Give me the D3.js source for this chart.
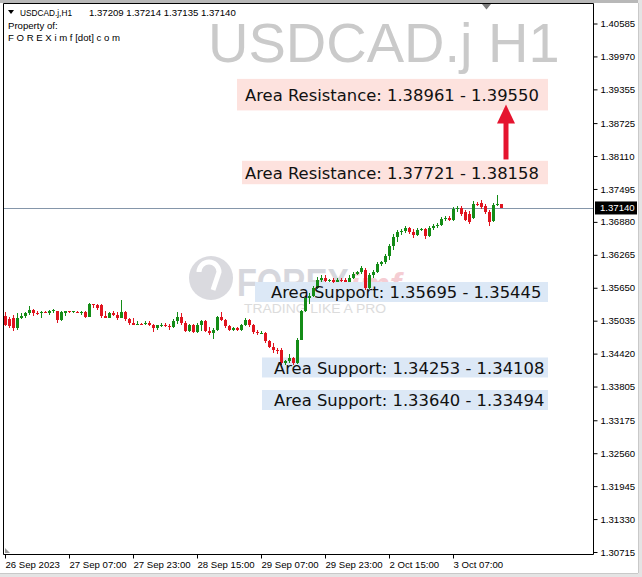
<!DOCTYPE html>
<html><head><meta charset="utf-8">
<script src="https://cdn.jsdelivr.net/npm/d3@7"></script>
<style>body{margin:0;background:#fff;} svg{display:block}</style>
</head><body>
<svg id="c" width="642" height="577"></svg>
<script>
const symbolLabel = "USDCAD.j,H1";
const headerOHLC = [1.37209, 1.37214, 1.37135, 1.37140];
const watermarkTitle = "USDCAD.j H1";
const propertyLines = ["Property of:", "F O R E X i m f [dot] c o m"];

const opens = [1.3513,1.3506,1.3509,1.3489,1.3508,1.3513,1.3517,1.3524,1.3517,1.3517,
 1.3519,1.3518,1.3522,1.3521,1.3504,1.3517,1.3521,1.3519,1.3519,1.3518,
 1.3519,1.3511,1.3534,1.3532,1.3532,1.3513,1.3509,1.3517,1.3515,1.3509,
 1.3519,1.3506,1.3500,1.3496,1.3498,1.3498,1.3500,1.3495,1.3489,1.3495,
 1.3496,1.3493,1.3491,1.3502,1.3511,1.3500,1.3485,1.3495,1.3482,1.3496,
 1.3502,1.3485,1.3480,1.3487,1.3511,1.3504,1.3493,1.3487,1.3489,1.3487,
 1.3495,1.3504,1.3495,1.3482,1.3480,1.3481,1.3465,1.3455,1.3448,1.3448,
 1.3424,1.3428,1.3433,1.3424,1.3468,1.3521,1.3545,1.3550,1.3565,1.3580,
 1.3584,1.3578,1.3580,1.3576,1.3580,1.3579,1.3576,1.3584,1.3591,1.3595,
 1.3599,1.3565,1.3588,1.3595,1.3610,1.3614,1.3625,1.3643,1.3660,1.3669,
 1.3671,1.3677,1.3669,1.3664,1.3673,1.3674,1.3662,1.3677,1.3681,1.3682,
 1.3694,1.3695,1.3692,1.3712,1.3714,1.3707,1.3703,1.3695,1.3721,1.3723,
 1.3718,1.3707,1.3690,1.3720,1.37209];
const highs = [1.3519,1.3511,1.3515,1.3517,1.3517,1.3519,1.3530,1.3526,1.3521,1.3521,
 1.3522,1.3524,1.3526,1.3522,1.3521,1.3522,1.3522,1.3522,1.3522,1.3522,
 1.3521,1.3537,1.3535,1.3535,1.3535,1.3521,1.3519,1.3521,1.3519,1.3543,
 1.3522,1.3509,1.3509,1.3502,1.3500,1.3502,1.3502,1.3498,1.3496,1.3500,
 1.3500,1.3498,1.3506,1.3519,1.3517,1.3502,1.3498,1.3498,1.3500,1.3504,
 1.3504,1.3491,1.3489,1.3513,1.3519,1.3506,1.3496,1.3491,1.3491,1.3498,
 1.3508,1.3506,1.3498,1.3487,1.3485,1.3483,1.3467,1.3461,1.3452,1.3452,
 1.3431,1.3441,1.3435,1.3472,1.3524,1.3548,1.3556,1.3569,1.3586,1.3588,
 1.3588,1.3582,1.3584,1.3584,1.3584,1.3584,1.3588,1.3595,1.3597,1.3606,
 1.3602,1.3593,1.3599,1.3614,1.3615,1.3628,1.3647,1.3666,1.3673,1.3675,
 1.3681,1.3679,1.3675,1.3677,1.3677,1.3677,1.3681,1.3684,1.3686,1.3697,
 1.3699,1.3699,1.3716,1.3718,1.3718,1.3710,1.3708,1.3727,1.3725,1.3729,
 1.3721,1.3710,1.3723,1.3738,1.37214];
const lows = [1.3493,1.3489,1.3485,1.3487,1.3506,1.3509,1.3515,1.3513,1.3515,1.3508,
 1.3517,1.3515,1.3517,1.3500,1.3502,1.3513,1.3517,1.3517,1.3517,1.3515,
 1.3509,1.3511,1.3528,1.3524,1.3509,1.3508,1.3508,1.3513,1.3504,1.3508,
 1.3502,1.3496,1.3495,1.3495,1.3495,1.3496,1.3493,1.3483,1.3487,1.3491,
 1.3491,1.3487,1.3489,1.3498,1.3496,1.3482,1.3483,1.3480,1.3480,1.3485,
 1.3482,1.3476,1.3470,1.3485,1.3502,1.3489,1.3485,1.3485,1.3485,1.3485,
 1.3493,1.3491,1.3478,1.3476,1.3478,1.3461,1.3452,1.3444,1.3442,1.3420,
 1.3420,1.3424,1.3420,1.3422,1.3467,1.3519,1.3534,1.3547,1.3563,1.3575,
 1.3575,1.3575,1.3573,1.3575,1.3576,1.3575,1.3575,1.3582,1.3588,1.3591,
 1.3561,1.3563,1.3584,1.3593,1.3606,1.3610,1.3617,1.3636,1.3651,1.3664,
 1.3668,1.3666,1.3658,1.3662,1.3671,1.3656,1.3660,1.3673,1.3677,1.3681,
 1.3690,1.3690,1.3690,1.3707,1.3699,1.3690,1.3684,1.3694,1.3718,1.3712,
 1.3703,1.3681,1.3688,1.3718,1.37135];
const closes = [1.3496,1.3493,1.3489,1.3508,1.3513,1.3517,1.3524,1.3517,1.3516,1.3519,
 1.3518,1.3522,1.3524,1.3504,1.3519,1.3521,1.3519,1.3521,1.3518,1.3520,
 1.3511,1.3534,1.3532,1.3528,1.3513,1.3509,1.3517,1.3515,1.3508,1.3519,
 1.3506,1.3500,1.3496,1.3498,1.3497,1.3500,1.3495,1.3489,1.3495,1.3496,
 1.3493,1.3491,1.3502,1.3511,1.3500,1.3485,1.3495,1.3482,1.3496,1.3502,
 1.3485,1.3480,1.3487,1.3511,1.3504,1.3493,1.3487,1.3489,1.3487,1.3495,
 1.3504,1.3495,1.3482,1.3480,1.3481,1.3465,1.3455,1.3448,1.3446,1.3424,
 1.3428,1.3433,1.3424,1.3468,1.3521,1.3545,1.3550,1.3565,1.3580,1.3584,
 1.3578,1.3580,1.3576,1.3580,1.3579,1.3576,1.3584,1.3591,1.3595,1.3601,
 1.3565,1.3588,1.3595,1.3610,1.3614,1.3625,1.3643,1.3660,1.3669,1.3671,
 1.3677,1.3669,1.3664,1.3673,1.3674,1.3662,1.3677,1.3681,1.3682,1.3694,
 1.3695,1.3692,1.3712,1.3714,1.3703,1.3692,1.3688,1.3721,1.3720,1.3716,
 1.3707,1.3688,1.3720,1.3721,1.37140];

const xTickIndex = [0,16,32,48,64,80,96,112];
const xTickLabels = ["26 Sep 2023","27 Sep 07:00","27 Sep 23:00","28 Sep 15:00","29 Sep 07:00","29 Sep 23:00","2 Oct 15:00","3 Oct 07:00"];
const yTickValues = [1.40585,1.39970,1.39355,1.38725,1.38110,1.37495,1.36880,1.36265,1.35650,1.35035,1.34420,1.33805,1.33175,1.32560,1.31945,1.31330,1.30715];

const zoneTexts = ["Area Resistance: 1.38961 - 1.39550","Area Resistance: 1.37721 - 1.38158","Area Support: 1.35695 - 1.35445","Area Support: 1.34253 - 1.34108","Area Support: 1.33640 - 1.33494"];
const zoneKinds = ["resistance","resistance","support","support","support"];
const zoneLow = [1.38961,1.37721,1.35445,1.34108,1.33494];
const zoneHigh = [1.39550,1.38158,1.35695,1.34253,1.33640];
const zoneCenters = [1.39256,1.37802,1.35571,1.34161,1.33554];
const lastPrice = 1.37140;

const bars = opens.map((o,i)=>({i, o, h:highs[i], l:lows[i], c:closes[i]}));
const N = bars.length;

const svg = d3.select("#c");
const L = 3.5, R = 593.5, T = 3.5, B = 554.5;
const AX = "Liberation Sans, Arial, sans-serif";

const x = d3.scaleLinear().domain([0, N-1]).range([5, 5 + 4*(N-1)]);
const y = d3.scaleLinear().domain([1.30715, 1.40585]).range([552, 23.5]);

// window background
svg.append("rect").attr("width",642).attr("height",577).attr("fill","#ffffff");
svg.append("rect").attr("x",0).attr("y",0).attr("width",642).attr("height",3).attr("fill","#b8b8b8");
svg.append("rect").attr("x",638).attr("y",0).attr("width",4).attr("height",577).attr("fill","#e4e4e4");
svg.append("rect").attr("x",0).attr("y",573).attr("width",642).attr("height",4).attr("fill","#e4e4e4");
svg.append("line").attr("x1",638.5).attr("x2",638.5).attr("y1",3).attr("y2",573).attr("stroke","#c9c9c9");
svg.append("line").attr("x1",0).attr("x2",638).attr("y1",573.5).attr("y2",573.5).attr("stroke","#c9c9c9");

const plot = svg.append("g");

// watermark title
plot.append("text").attr("x",208).attr("y",62).attr("font-family",AX).attr("font-size",56)
  .attr("fill","#cacaca").text(watermarkTitle);

// logo watermark
const wm = plot.append("g").attr("opacity",0.9);
wm.append("circle").attr("cx",211).attr("cy",278).attr("r",22).attr("fill","#d6d6dc");
wm.append("path").attr("d","M199,272 a10,10 0 1 1 20,0 l-6,18").attr("fill","none").attr("stroke","#ffffff").attr("stroke-width",5);
wm.append("text").attr("x",237).attr("y",296).attr("font-family",AX).attr("font-weight","bold")
  .attr("font-size",38).attr("fill","#d2d3da").attr("textLength",112).attr("lengthAdjust","spacingAndGlyphs").text("FOREX");
wm.append("text").attr("x",350).attr("y",296).attr("font-family",AX).attr("font-weight","bold").attr("font-style","italic")
  .attr("font-size",34).attr("fill","#f5c8cf").text("imf");
wm.append("text").attr("x",244).attr("y",313).attr("font-family",AX).attr("font-size",12)
  .attr("fill","#d9d9d9").attr("textLength",142).attr("lengthAdjust","spacingAndGlyphs").text("TRADING LIKE A PRO");

// zone layout (annotation positions)
const zoneTextX = [x(60), x(60), x(66.5), x(67.25), x(67.25)];
const zonePadLeft = [8, 3, 16, 12, 12];
const zoneRight = 548;
const zoneFill = {resistance:"#fde2de", support:"#dce8f6"};
const zones = zoneTexts.map((t,i)=>{
  const cy = y(zoneCenters[i]);
  const half = Math.max(Math.abs(y(zoneLow[i]) - y(zoneHigh[i]))/2, 10);
  return {t, kind:zoneKinds[i], cy, half, tx: zoneTextX[i], bx: zoneTextX[i] - zonePadLeft[i]};
});
plot.selectAll("rect.zone").data(zones).join("rect").attr("class","zone")
  .attr("x", d => d.bx).attr("width", d => zoneRight - d.bx)
  .attr("y", d => d.cy - d.half).attr("height", d => 2*d.half)
  .attr("fill", d => zoneFill[d.kind]);

// current price line
plot.append("line").attr("x1",L).attr("x2",R).attr("y1",Math.round(y(lastPrice))+0.5).attr("y2",Math.round(y(lastPrice))+0.5)
  .attr("stroke","#8596aa").attr("stroke-width",1);

// candles
const up = "#148c17", dn = "#e0141f";
const cg = plot.append("g").attr("shape-rendering","crispEdges");
cg.selectAll("line.w").data(bars).join("line").attr("class","w")
  .attr("x1", d => Math.round(x(d.i))+0.5).attr("x2", d => Math.round(x(d.i))+0.5)
  .attr("y1", d => y(d.h)).attr("y2", d => y(d.l))
  .attr("stroke", d => d.c >= d.o ? up : dn).attr("stroke-width",1);
cg.selectAll("rect.b").data(bars).join("rect").attr("class","b")
  .attr("x", d => Math.round(x(d.i))-1).attr("width",3)
  .attr("y", d => y(Math.max(d.o,d.c))).attr("height", d => Math.max(1, Math.abs(y(d.o)-y(d.c))))
  .attr("fill", d => d.c >= d.o ? up : dn);

// zone texts
plot.selectAll("text.zone").data(zones).join("text").attr("class","zone")
  .attr("x", d => d.tx).attr("y", d => d.cy + 1)
  .attr("dominant-baseline","central")
  .attr("font-family","DejaVu Sans, sans-serif").attr("font-size",16.4).attr("fill","#111")
  .text(d => d.t);

// arrow between resistance zones
const ax = x(N-1) + 5;
const tipY = y(zoneLow[0]) - 6, baseY = y(zoneHigh[1]) + 6;
plot.append("line").attr("x1",ax).attr("x2",ax).attr("y1",baseY).attr("y2",tipY+16)
  .attr("stroke","#e5142f").attr("stroke-width",5);
plot.append("path").attr("d",`M${ax},${tipY} L${ax-9},${tipY+19} L${ax+9},${tipY+19} Z`).attr("fill","#e5142f");

// frame
svg.append("path").attr("d",`M${L},${B} L${L},${T} L${R},${T} L${R},${B} Z`).attr("fill","none").attr("stroke","#000").attr("stroke-width",1);

// header
svg.append("path").attr("d","M8,10 L14,10 L11,14 Z").attr("fill","#000");
svg.append("text").attr("x",20).attr("y",15.5).attr("font-family",AX).attr("font-size",9.6).attr("fill","#000")
  .attr("textLength",52).attr("lengthAdjust","spacingAndGlyphs").text(symbolLabel);
svg.append("text").attr("x",89).attr("y",15.5).attr("font-family",AX).attr("font-size",9.6).attr("fill","#000")
  .text(headerOHLC.map(v=>v.toFixed(5)).join(" "));
propertyLines.forEach((t,k)=>{
  svg.append("text").attr("x",8).attr("y",29 + k*11.5).attr("font-family",AX).attr("font-size",9.6).attr("fill","#000").text(t);
});
// chart-shift marker
svg.append("path").attr("d","M482,4 L491,4 L486.5,9.5 Z").attr("fill","#7a7a7a");

// right axis
const yAxis = d3.axisRight(y).tickValues(yTickValues).tickFormat(d3.format(".5f")).tickSize(4).tickSizeOuter(0).tickPadding(3);
const gy = svg.append("g").attr("transform",`translate(${R},0)`).call(yAxis);
gy.select(".domain").remove();
gy.selectAll("text").attr("font-family",AX).attr("font-size",9.6).attr("fill","#000");
gy.selectAll("line").attr("stroke","#000");

// price tag
const py = y(lastPrice);
svg.append("rect").attr("x",595).attr("y",py-6.5).attr("width",42).attr("height",13).attr("fill","#000");
svg.append("text").attr("x",600).attr("y",py).attr("dominant-baseline","central").attr("font-family",AX)
  .attr("font-size",9.6).attr("fill","#fff").text(lastPrice.toFixed(5));

// bottom axis
const xAxis = d3.axisBottom(x).tickValues(xTickIndex).tickFormat((d,i)=>xTickLabels[i]).tickSize(4).tickSizeOuter(0).tickPadding(3);
const gx = svg.append("g").attr("transform",`translate(0,${B})`).call(xAxis);
gx.select(".domain").remove();
gx.selectAll("text").attr("text-anchor","start").attr("x",0).attr("font-family",AX).attr("font-size",9.6).attr("fill","#000");
gx.selectAll("line").attr("stroke","#000");
gx.selectAll(".tick").attr("transform", d => `translate(${Math.round(x(d))+0.5},0)`);

// small scroll marker bottom-left
svg.append("path").attr("d","M5,548 L5,553 L10,553 Z").attr("fill","#9a9a9a");
</script>
</body></html>
